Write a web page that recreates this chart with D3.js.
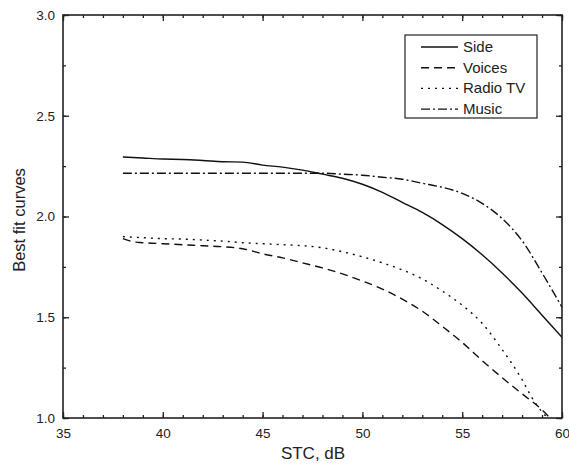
<!DOCTYPE html>
<html><head><meta charset="utf-8">
<script src="https://cdn.jsdelivr.net/npm/d3@7"></script>
<style>body{margin:0;background:#fff}svg{display:block}text{font-family:"Liberation Sans",Arial,sans-serif;fill:#222}</style>
</head><body><svg id="c" width="569" height="464"></svg>
<script>
const sideX = [38,39,40,41,42,43,44,45,46,47,48,49,50,51,52,53,54,55,56,57,58,59,60];
const sideY = [2.295,2.29,2.285,2.283,2.278,2.272,2.27,2.255,2.245,2.23,2.21,2.19,2.16,2.12,2.07,2.02,1.96,1.89,1.81,1.72,1.62,1.51,1.40];
const voicesX = [38,38.5,39,40,41,42,43,44,45,46,47,48,49,50,51,52,53,54,55,56,57,58,59,59.4];
const voicesY = [1.89,1.875,1.87,1.865,1.86,1.855,1.85,1.84,1.815,1.795,1.77,1.745,1.715,1.68,1.64,1.59,1.53,1.455,1.375,1.285,1.20,1.12,1.04,1.0];
const radioX = [38,39,40,41,42,43,44,45,46,47,48,49,50,51,52,53,54,55,56,57,58,58.5,59,59.3];
const radioY = [1.90,1.895,1.89,1.888,1.883,1.878,1.87,1.865,1.86,1.855,1.845,1.825,1.80,1.77,1.735,1.69,1.63,1.56,1.47,1.34,1.19,1.10,1.03,1.0];
const musicX = [38,40,42,44,46,48,49,50,51,52,53,54,55,56,57,58,59,60];
const musicY = [2.215,2.215,2.215,2.215,2.215,2.215,2.21,2.205,2.195,2.185,2.165,2.145,2.115,2.065,1.99,1.88,1.72,1.55];
const seriesNames = ["Side","Voices","Radio TV","Music"];
const xTicks = [35,40,45,50,55,60];
const yTicks = [1.0,1.5,2.0,2.5,3.0];

const svg = d3.select("#c");
const L=63,R=562,T=15,B=418;
const x = d3.scaleLinear().domain([35,60]).range([L,R]);
const y = d3.scaleLinear().domain([1,3]).range([B,T]);
const dashes = [null,"8,5","2,5","9,3,2,3"];
const data = [[sideX,sideY],[voicesX,voicesY],[radioX,radioY],[musicX,musicY]];

svg.append("clipPath").attr("id","clip").append("rect").attr("x",L).attr("y",T).attr("width",R-L).attr("height",B-T);
const line = d3.line().x(d=>x(d[0])).y(d=>y(d[1])).curve(d3.curveMonotoneX);
data.forEach((s,i)=>{
  const pts = s[0].map((v,j)=>[v,s[1][j]]);
  svg.append("path").attr("clip-path","url(#clip)").attr("d",line(pts)).attr("fill","none")
    .attr("stroke","#111").attr("stroke-width",1.4).attr("stroke-dasharray",dashes[i]);
});

// axes
const col="#222";
function ax(gen, tr){ const g=svg.append("g").attr("transform",tr).call(gen); g.select(".domain").remove(); g.selectAll("line").attr("stroke",col).attr("stroke-width",1.3); return g;}
const minorX = d3.range(35,61,1), minorY = d3.range(1,3.01,0.25);
ax(d3.axisBottom(x).tickValues(minorX).tickSize(-3).tickFormat(""),`translate(0,${B})`);
ax(d3.axisBottom(x).tickValues(xTicks).tickSize(-6).tickPadding(10).tickFormat(d3.format("d")),`translate(0,${B})`)
  .selectAll("text").attr("font-size",13.5).attr("fill",col);
ax(d3.axisTop(x).tickValues(minorX).tickSize(-3).tickFormat(""),`translate(0,${T})`);
ax(d3.axisTop(x).tickValues(xTicks).tickSize(-6).tickFormat(""),`translate(0,${T})`);
ax(d3.axisLeft(y).tickValues(minorY).tickSize(-3).tickFormat(""),`translate(${L},0)`);
ax(d3.axisLeft(y).tickValues(yTicks).tickSize(-6).tickPadding(8).tickFormat(d3.format(".1f")),`translate(${L},0)`)
  .selectAll("text").attr("font-size",13.5).attr("fill",col);
ax(d3.axisRight(y).tickValues(minorY).tickSize(-3).tickFormat(""),`translate(${R},0)`);
ax(d3.axisRight(y).tickValues(yTicks).tickSize(-6).tickFormat(""),`translate(${R},0)`);
svg.append("rect").attr("x",L).attr("y",T).attr("width",R-L).attr("height",B-T).attr("fill","none").attr("stroke",col).attr("stroke-width",1.6);

svg.append("text").attr("x",313).attr("y",459).attr("text-anchor","middle").attr("font-size",17).text("STC, dB");
svg.append("text").attr("transform",`translate(25,220) rotate(-90)`).attr("text-anchor","middle").attr("font-size",16.5).text("Best fit curves");

// legend
const lg = svg.append("g");
lg.append("rect").attr("x",405).attr("y",35).attr("width",132).attr("height",83).attr("fill","#fff").attr("stroke",col).attr("stroke-width",1.2);
seriesNames.forEach((n,i)=>{
  const yy = 47+i*20.7;
  lg.append("line").attr("x1",421).attr("x2",458).attr("y1",yy).attr("y2",yy).attr("stroke","#111").attr("stroke-width",1.4).attr("stroke-dasharray",dashes[i]);
  lg.append("text").attr("x",463).attr("y",yy+5).attr("font-size",15).text(n);
});
</script></body></html>
